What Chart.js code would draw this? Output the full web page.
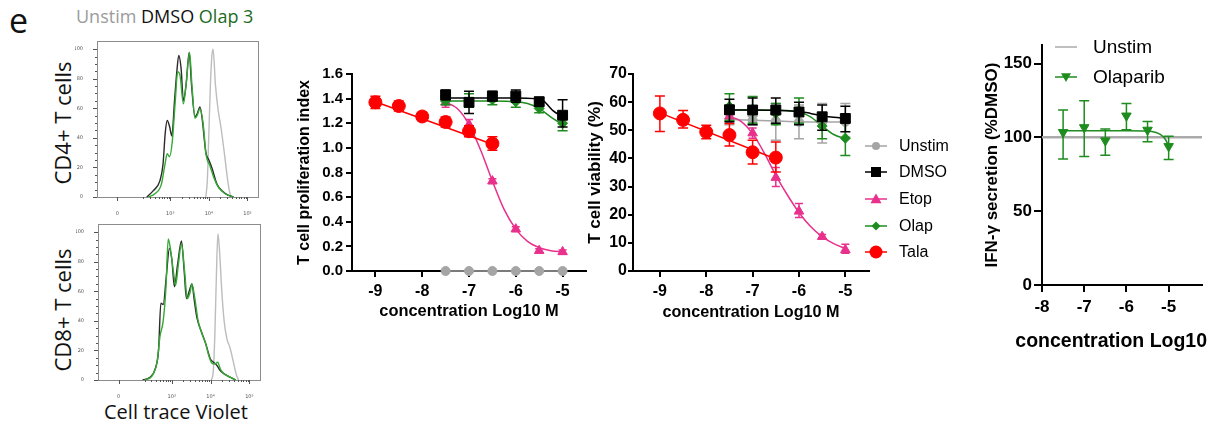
<!DOCTYPE html>
<html>
<head>
<meta charset="utf-8">
<script src="https://cdn.jsdelivr.net/npm/chart.js@4.4.1/dist/chart.umd.min.js"></script>
<style>
  html, body { margin: 0; padding: 0; background: #fff; }
  #fig { position: relative; width: 1211px; height: 433px; overflow: hidden; }
  #fig canvas { position: absolute; }
  .lbl { position: absolute; white-space: nowrap; font-family: "Open Sans", sans-serif; color: #111; line-height: 1; }
  .vert { transform: translate(-50%, -50%) rotate(-90deg); }
  .mid { transform: translate(-50%, -50%); }
  .gp { font-family: "Liberation Sans", Arial, sans-serif; font-weight: bold; color: #000; }
  .leg { position: absolute; height: 22px; white-space: nowrap; font-family: "Liberation Sans", Arial, sans-serif; color: #000; }
  .leg span { position: absolute; top: 0; line-height: 22px; }
</style>
</head>
<body>
<div id="fig">
  <div class="lbl" style="left:9px;top:3px;font-size:34px;">e</div>
  <div class="lbl" style="left:76px;top:16px;font-size:18px;transform:translate(0,-50%);"><span style="color:#9b9b9b">Unstim</span> DMSO <span style="color:#1d6b1d">Olap 3</span></div>
  <div class="lbl vert" style="left:62px;top:123px;font-size:22px;">CD4+ T cells</div>
  <div class="lbl vert" style="left:62px;top:310px;font-size:22px;">CD8+ T cells</div>
  <div class="lbl mid" style="left:176px;top:412px;font-size:20px;">Cell trace Violet</div>

  <canvas id="histTop"></canvas>
  <canvas id="histBottom"></canvas>
  <canvas id="prolif"></canvas>
  <canvas id="viab"></canvas>
  <canvas id="ifn"></canvas>
  <div class="lbl mid gp" style="left:1122px;top:341px;font-size:19.5px;">concentration Log10 M</div>
  <div id="legViab"></div>
  <div id="legIfn"></div>
</div>

<script>
// ---- histogram data (log10 fluorescence, % of max) ----
const histXTicks = [1.63, 3, 4, 5];
const histXLabels = ['0', '10³', '10⁴', '10⁵'];

const cd4DmsoX = [2.39, 2.56, 2.73, 2.81, 2.87, 2.92, 2.98, 3.04, 3.11, 3.17, 3.22, 3.28, 3.34, 3.41, 3.49, 3.55, 3.64, 3.70, 3.77, 3.83, 3.92, 4.00, 4.08, 4.21, 4.34, 4.51, 4.64];
const cd4DmsoY = [0, 4.3, 10.9, 21.7, 43.5, 51.7, 47.8, 41.3, 65.2, 84.8, 95.7, 87, 65.2, 76.1, 97.8, 76.1, 54.3, 56.5, 60.9, 52.2, 30.4, 25, 19.6, 8.7, 4.3, 1.1, 0];
const cd4OlapX = [2.43, 2.60, 2.77, 2.86, 2.92, 2.98, 3.05, 3.13, 3.19, 3.25, 3.34, 3.41, 3.50, 3.56, 3.64, 3.70, 3.77, 3.85, 3.93, 4.02, 4.13, 4.25, 4.42, 4.64];
const cd4OlapY = [0, 2.2, 8.7, 21.7, 29.3, 27.2, 37, 65.2, 84.8, 82.6, 63, 76.1, 97.8, 76.1, 53.3, 55.4, 59.8, 50, 28.3, 21.7, 13, 6.5, 2.2, 0];
const cd4UnstimX = [3.92, 3.96, 4.0, 4.04, 4.08, 4.11, 4.17, 4.24, 4.32, 4.41, 4.49, 4.55, 4.6];
const cd4UnstimY = [0, 11, 43, 76, 96, 100, 76, 59, 46, 28, 11, 2, 0];

const cd8DmsoX = [2.25, 2.45, 2.58, 2.66, 2.72, 2.78, 2.86, 2.94, 3.0, 3.07, 3.15, 3.25, 3.32, 3.38, 3.45, 3.52, 3.58, 3.65, 3.78, 3.87, 4.0, 4.08, 4.16, 4.26, 4.36, 4.5, 4.65];
const cd8DmsoY = [0, 2, 8, 20, 52, 51, 70, 89, 82, 63, 78, 94, 74, 55, 60, 65, 54, 42, 31.6, 25, 14, 12, 10, 6, 4, 2, 0];
const cd8OlapX = [2.3, 2.5, 2.62, 2.7, 2.78, 2.85, 2.91, 2.97, 3.05, 3.1, 3.17, 3.25, 3.33, 3.4, 3.47, 3.52, 3.59, 3.68, 3.77, 3.87, 3.96, 4.05, 4.12, 4.18, 4.26, 4.36, 4.5, 4.65];
const cd8OlapY = [0, 3, 12, 30, 40, 62, 95.4, 88, 72, 64, 78, 92, 74, 55, 59, 65, 56, 40, 32, 25, 16, 11, 11, 12, 7, 4, 2, 0];
const cd8UnstimX = [4.02, 4.07, 4.11, 4.15, 4.19, 4.23, 4.29, 4.35, 4.42, 4.5, 4.59, 4.66, 4.72];
const cd8UnstimY = [0, 6, 30, 70, 99, 88, 60, 40, 28, 22, 12, 4, 0];

// ---- dose response (log10 M) ----
const concDrug = [-7.5, -7, -6.5, -6, -5.5, -5];
const concTala = [-9, -8.5, -8, -7.5, -7, -6.5];
const concTicks = [-9, -8, -7, -6, -5];

// T cell proliferation index
const prolifUnstim = [0, 0, 0, 0, 0, 0];
const prolifDmso = [1.43, 1.37, 1.42, 1.42, 1.375, 1.265];
const prolifDmsoLo = [1.39, 1.28, 1.38, 1.37, 1.34, 1.17];
const prolifDmsoHi = [1.47, 1.46, 1.46, 1.47, 1.41, 1.39];
const prolifOlap = [1.38, 1.38, 1.39, 1.375, 1.32, 1.2];
const prolifOlapLo = [1.35, 1.33, 1.35, 1.33, 1.285, 1.14];
const prolifOlapHi = [1.415, 1.44, 1.43, 1.42, 1.36, 1.247];
const prolifEtop = [1.37, 1.19, 0.73, 0.34, 0.165, 0.155];
const prolifEtopLo = [1.33, 1.16, 0.71, 0.32, 0.15, 0.14];
const prolifEtopHi = [1.41, 1.23, 0.75, 0.36, 0.18, 0.17];
const prolifTala = [1.37, 1.34, 1.255, 1.21, 1.135, 1.035];
const prolifTalaLo = [1.32, 1.3, 1.22, 1.17, 1.09, 0.98];
const prolifTalaHi = [1.42, 1.38, 1.29, 1.25, 1.18, 1.09];
// fitted curves
const etopFitX = [-7.5, -7.25, -7, -6.75, -6.5, -6.25, -6, -5.75, -5.5, -5.25, -5];
const prolifEtopFit = [1.37, 1.32, 1.19, 0.98, 0.73, 0.5, 0.34, 0.24, 0.19, 0.165, 0.155];
const prolifDmsoFitX = [-7.5, -7, -6.5, -6, -5.6, -5.4, -5.3, -5.2, -5.1, -5];
const prolifDmsoFit = [1.405, 1.405, 1.405, 1.405, 1.4, 1.38, 1.34, 1.3, 1.275, 1.262];
const prolifOlapFitX = [-7.5, -7, -6.5, -6, -5.75, -5.5, -5.25, -5];
const prolifOlapFit = [1.38, 1.38, 1.38, 1.375, 1.36, 1.32, 1.25, 1.19];
const talaFitX = [-9, -6.5];
const prolifTalaFit = [1.375, 1.03];
const prolifTicks = [0, 0.2, 0.4, 0.6, 0.8, 1.0, 1.2, 1.4, 1.6];

// T cell viability (%)
const viabUnstim = [53.8, 53.6, 53.3, 53.0, 52.9, 53.0];
const viabUnstimLo = [52, 52, 46.5, 47, 45.5, 47.5];
const viabUnstimHi = [55.5, 55, 59.5, 59, 59.5, 59.5];
const viabDmso = [57.3, 57.2, 57.2, 56.5, 54.8, 54.2];
const viabDmsoLo = [53, 52, 52.5, 52, 50, 49.5];
const viabDmsoHi = [61, 61.5, 61.5, 60, 59, 58.5];
const viabOlap = [58.5, 57.5, 56, 57, 51.5, 47.2];
const viabOlapLo = [53.5, 52.5, 52, 52.5, 47, 41];
const viabOlapHi = [63, 62, 59.5, 61.5, 56, 53];
const viabEtop = [55, 49, 33.2, 21.2, 12.2, 7.5];
const viabEtopLo = [53, 47.2, 30, 19, 11.5, 6.3];
const viabEtopHi = [56.5, 50.8, 36.8, 24, 13, 9.5];
const viabTala = [56, 53.7, 49.4, 48.3, 42.2, 40.3];
const viabTalaLo = [49.6, 50.8, 47, 44.4, 38, 35.2];
const viabTalaHi = [62.2, 57, 51.8, 52.4, 46.5, 45.8];
const viabEtopFit = [55, 53.2, 48.8, 42, 34, 27, 20.8, 15.8, 12.2, 9.7, 8];
const viabDmsoFitX = [-7.5, -7, -6.5, -6, -5.75, -5.5, -5.25, -5];
const viabDmsoFit = [57.2, 57.2, 57.1, 56.7, 56, 55.2, 54.6, 54.3];
const viabOlapFitX = [-7.5, -7, -6.5, -6.25, -6, -5.75, -5.5, -5.25, -5];
const viabOlapFit = [57.2, 57.2, 57.1, 57, 56.5, 54.8, 51.5, 48.5, 47];
const viabTalaFit = [56.2, 39.8];
const viabTicks = [0, 10, 20, 30, 40, 50, 60, 70];

// IFN-gamma secretion (% DMSO)
const ifnConc = [-7.5, -7, -6.5, -6, -5.5, -5];
const ifnOlap = [103.4, 106.7, 97.8, 114.6, 105, 93.9];
const ifnOlapLo = [85.4, 87, 87.9, 105.2, 97, 85];
const ifnOlapHi = [118.6, 124.7, 105.6, 123, 110.8, 100.7];
const ifnFitX = [-7.5, -7, -6.5, -6, -5.5, -5.3, -5.2, -5.1, -5];
const ifnFit = [104.5, 104.5, 104.5, 104.5, 104.3, 103.3, 102, 99.5, 94.5];
const ifnUnstim = 100;
const ifnXTicks = [-8, -7, -6, -5];
const ifnYTicks = [0, 50, 100, 150];

const legendNames = ['Unstim', 'DMSO', 'Etop', 'Olap', 'Tala'];

// ---- colours ----
const cGray = '#a5a5a5', cBlack = '#000000', cPink = '#e8308c', cGreen = '#1e8c1e', cRed = '#ff0000';
const fontGP = '"Liberation Sans", Arial, sans-serif';

const errorBars = {
  id: 'errorBars',
  beforeDatasetDraw(chart, args) {
    const ds = chart.data.datasets[args.index];
    if (!ds.errLo) return;
    const { ctx } = chart;
    const x = chart.scales.x, y = chart.scales.y;
    ctx.save();
    ctx.strokeStyle = ds.errColor;
    ctx.lineWidth = 1.5;
    ds.data.forEach((p, i) => {
      const px = x.getPixelForValue(p.x);
      const lo = y.getPixelForValue(ds.errLo[i]);
      const hi = y.getPixelForValue(ds.errHi[i]);
      const cw = ds.capWidth;
      ctx.beginPath();
      ctx.moveTo(px, lo); ctx.lineTo(px, hi);
      ctx.moveTo(px - cw, lo); ctx.lineTo(px + cw, lo);
      ctx.moveTo(px - cw, hi); ctx.lineTo(px + cw, hi);
      ctx.stroke();
    });
    ctx.restore();
  }
};
Chart.register(errorBars);

// grey box around the flow histograms, with tick marks on the left and bottom
const histFrame = {
  id: 'histFrame',
  afterDatasetsDraw(chart) {
    const a = chart.chartArea, ctx = chart.ctx;
    const sx = chart.scales.x, sy = chart.scales.y;
    ctx.save();
    ctx.strokeStyle = '#8c8c8c';
    ctx.lineWidth = 1;
    ctx.strokeRect(Math.round(a.left) + 0.5, Math.round(a.top) + 0.5, Math.round(a.right - a.left) - 1, Math.round(a.bottom - a.top));
    ctx.strokeStyle = '#555';
    ctx.beginPath();
    sy.ticks.forEach(t => {
      const py = Math.round(sy.getPixelForValue(t.value)) + 0.5;
      const len = t.value % 20 === 0 ? 4 : 2;
      ctx.moveTo(a.left - len, py); ctx.lineTo(a.left, py);
    });
    sx.ticks.forEach(t => {
      const px = Math.round(sx.getPixelForValue(t.value)) + 0.5;
      const len = histXTicks.indexOf(t.value) >= 0 ? 4 : 2;
      ctx.moveTo(px, a.bottom); ctx.lineTo(px, a.bottom + len);
    });
    ctx.stroke();
    ctx.restore();
  }
};

function xy(xs, ys) { return xs.map((x, i) => ({ x: x, y: ys[i] })); }

function points(xs, ys, lo, hi, color, style, r, cap, rot) {
  return {
    data: xy(xs, ys), showLine: false, clip: false,
    pointStyle: style, pointRadius: r, rotation: rot || 0,
    pointBackgroundColor: color, pointBorderColor: color, pointBorderWidth: 1,
    errLo: lo, errHi: hi, errColor: color, capWidth: cap
  };
}

function curve(xs, ys, color, w) {
  return {
    data: xy(xs, ys), showLine: true, clip: false, pointRadius: 0,
    borderColor: color, borderWidth: w || 1.5, cubicInterpolationMode: 'monotone'
  };
}

function gpAxis(min, max, ticks, fmt, fs, title, ts, tl, pad) {
  return {
    type: 'linear', min: min, max: max,
    afterBuildTicks: s => { s.ticks = ticks.map(v => ({ value: v })); },
    ticks: { autoSkip: false, maxRotation: 0, padding: pad, color: '#000', callback: fmt,
             font: { family: fontGP, weight: 'bold', size: fs } },
    grid: { display: true, drawOnChartArea: false, drawTicks: true, tickLength: tl,
            tickWidth: 2, tickColor: '#000', color: '#000', lineWidth: 2 },
    border: { display: true, color: '#000', width: 2 },
    title: { display: !!title, text: title, color: '#000', padding: 0,
             font: { family: fontGP, weight: 'bold', size: ts } }
  };
}

// place a chart so that its plot area lands on the given box
function placed(id, area, m, config) {
  const c = document.getElementById(id);
  const w = area.r - area.l + m.l + m.r, h = area.b - area.t + m.t + m.b;
  c.width = w; c.height = h;
  c.style.width = w + 'px'; c.style.height = h + 'px';
  c.style.left = (area.l - m.l) + 'px'; c.style.top = (area.t - m.t) + 'px';
  config.options.responsive = false;
  config.options.animation = false;
  config.options.devicePixelRatio = 1;
  config.options.events = [];
  config.options.layout = { padding: { left: 0, top: m.t, right: m.r, bottom: 0 } };
  config.options.plugins = Object.assign({ legend: { display: false }, tooltip: { enabled: false } }, config.options.plugins || {});
  config.options.scales.y.afterFit = s => { s.width = m.l; };
  config.options.scales.x.afterFit = s => { s.height = m.b; };
  return new Chart(c, config);
}

// ---- histograms ----
const histMinor = [];
[2, 3, 4].forEach(d => { for (let k = 2; k <= 9; k++) { const v = d + Math.log10(k); if (v > 2.2 && v < 5.3) histMinor.push(v); } });
const histYTicks = [];
for (let v = 0; v <= 100; v += 5) histYTicks.push(v);

function histChart(id, area, dx, dy, ox, oy, ux, uy) {
  const allX = histXTicks.concat(histMinor);
  return placed(id, area, { l: 22, t: 3, r: 4, b: 18 }, {
    type: 'scatter',
    data: { datasets: [
      curve(ox, oy, '#33a833', 1.4),
      curve(dx, dy, '#2b2b2b', 1.4),
      curve(ux, uy, '#bdbdbd', 1.4)
    ] },
    plugins: [histFrame],
    options: {
      scales: {
        x: {
          type: 'linear', min: 1.1, max: 5.3,
          afterBuildTicks: s => { s.ticks = allX.map(v => ({ value: v })); },
          ticks: { autoSkip: false, maxRotation: 0, padding: 6, color: '#555',
                   font: { family: 'DejaVu Sans', size: 5 },
                   callback: v => { const i = histXTicks.indexOf(v); return i >= 0 ? histXLabels[i] : ''; } },
          grid: { display: false },
          border: { display: false }
        },
        y: {
          type: 'linear', min: 0, max: 105.5,
          afterBuildTicks: s => { s.ticks = histYTicks.map(v => ({ value: v })); },
          ticks: { autoSkip: false, padding: 6, color: '#555',
                   font: { family: 'DejaVu Sans', size: 5 },
                   callback: v => (v % 20 === 0 ? String(v) : '') },
          grid: { display: false },
          border: { display: false }
        }
      }
    }
  });
}

histChart('histTop', { l: 97, t: 35, r: 259, b: 197 }, cd4DmsoX, cd4DmsoY, cd4OlapX, cd4OlapY, cd4UnstimX, cd4UnstimY);
histChart('histBottom', { l: 98, t: 218, r: 261, b: 380 }, cd8DmsoX, cd8DmsoY, cd8OlapX, cd8OlapY, cd8UnstimX, cd8UnstimY);

// ---- proliferation ----
placed('prolif', { l: 352, t: 74, r: 586, b: 271 }, { l: 57, t: 12, r: 12, b: 50 }, {
  type: 'scatter',
  data: { datasets: [
    points(concDrug, prolifDmso, prolifDmsoLo, prolifDmsoHi, cBlack, 'rect', 7, 5),
    points(concDrug, prolifOlap, prolifOlapLo, prolifOlapHi, cGreen, 'rectRot', 5, 5),
    points(concTala, prolifTala, prolifTalaLo, prolifTalaHi, cRed, 'circle', 6.5, 5),
    points(concDrug, prolifEtop, prolifEtopLo, prolifEtopHi, cPink, 'triangle', 5.5, 4),
    points(concDrug, prolifUnstim, null, null, cGray, 'circle', 4.5, 0),
    curve(prolifDmsoFitX, prolifDmsoFit, cBlack),
    curve(prolifOlapFitX, prolifOlapFit, cGreen),
    curve(talaFitX, prolifTalaFit, cRed),
    curve(etopFitX, prolifEtopFit, cPink),
    curve(concDrug, prolifUnstim, cGray)
  ] },
  options: {
    scales: {
      x: gpAxis(-9.5, -4.5, concTicks, v => String(v), 16, 'concentration Log10 M', 16.4, 6, 5),
      y: gpAxis(0, 1.6, prolifTicks, v => v.toFixed(1), 15, 'T cell proliferation index', 16, 6, 3)
    }
  }
});

// ---- viability ----
placed('viab', { l: 633, t: 74, r: 869, b: 271 }, { l: 48, t: 12, r: 8, b: 51 }, {
  type: 'scatter',
  data: { datasets: [
    points(concDrug, viabDmso, viabDmsoLo, viabDmsoHi, cBlack, 'rect', 7, 5),
    points(concDrug, viabOlap, viabOlapLo, viabOlapHi, cGreen, 'rectRot', 5, 5),
    points(concTala, viabTala, viabTalaLo, viabTalaHi, cRed, 'circle', 6.5, 5),
    points(concDrug, viabEtop, viabEtopLo, viabEtopHi, cPink, 'triangle', 5.5, 4),
    points(concDrug, viabUnstim, viabUnstimLo, viabUnstimHi, cGray, 'circle', 4.5, 5),
    curve(viabDmsoFitX, viabDmsoFit, cBlack),
    curve(viabOlapFitX, viabOlapFit, cGreen),
    curve(talaFitX, viabTalaFit, cRed),
    curve(etopFitX, viabEtopFit, cPink),
    curve(concDrug, viabUnstim, cGray)
  ] },
  options: {
    scales: {
      x: gpAxis(-9.58, -4.49, concTicks, v => String(v), 16, 'concentration Log10 M', 16.2, 6, 5),
      y: gpAxis(0, 70, viabTicks, v => String(v), 16, 'T cell viability (%)', 17, 5, 1)
    }
  }
});

// ---- IFN-gamma ----
const ifnXMin = -8, ifnXMax = -4.21;
placed('ifn', { l: 1042, t: 45, r: 1202, b: 285 }, { l: 60, t: 12, r: 9, b: 68 }, {
  type: 'scatter',
  data: { datasets: [
    points(ifnConc, ifnOlap, ifnOlapLo, ifnOlapHi, cGreen, 'triangle', 5.5, 5, 180),
    curve(ifnFitX, ifnFit, cGreen),
    curve([ifnXMin, ifnXMax], [ifnUnstim, ifnUnstim], '#aaaaaa', 2.5)
  ] },
  options: {
    scales: {
      x: gpAxis(ifnXMin, ifnXMax, ifnXTicks, v => String(v), 17, '', 19.5, 7, 5),
      y: gpAxis(0, 162.4, ifnYTicks, v => String(v), 17, 'IFN-γ secretion (%DMSO)', 17, 8, 2)
    }
  }
});

// ---- legends ----
function marker(shape, color, s) {
  if (shape === 'circle') return `<circle cx="11" cy="11" r="${s}" fill="${color}"/>`;
  if (shape === 'square') return `<rect x="${11 - s}" y="${11 - s}" width="${2 * s}" height="${2 * s}" fill="${color}"/>`;
  if (shape === 'triangle') return `<polygon points="11,${11 - s} ${11 + s},${11 + s * 0.75} ${11 - s},${11 + s * 0.75}" fill="${color}"/>`;
  if (shape === 'tridown') return `<polygon points="11,${11 + s} ${11 + s},${11 - s * 0.75} ${11 - s},${11 - s * 0.75}" fill="${color}"/>`;
  if (shape === 'diamond') return `<polygon points="11,${11 - s} ${11 + s},11 11,${11 + s} ${11 - s},11" fill="${color}"/>`;
  return '';
}

function legendRow(parent, x, y, textX, name, color, shape, s, fs) {
  const row = document.createElement('div');
  row.className = 'leg';
  row.style.left = x + 'px';
  row.style.top = (y - 11) + 'px';
  row.style.fontSize = fs + 'px';
  row.innerHTML = `<svg width="22" height="22" style="position:absolute;left:0;top:0">` +
    `<line x1="0" y1="11" x2="22" y2="11" stroke="${color}" stroke-width="1.5"/>${marker(shape, color, s)}</svg>` +
    `<span style="left:${textX - x}px">${name}</span>`;
  parent.appendChild(row);
}

const legViab = document.getElementById('legViab');
const legColors = [cGray, cBlack, cPink, cGreen, cRed];
const legShapes = ['circle', 'square', 'triangle', 'diamond', 'circle'];
const legSizes = [4, 5, 5.5, 4.5, 6.5];
const legY = [146, 172, 199, 226, 252];
legendNames.forEach((n, i) => legendRow(legViab, 865, legY[i], 899, n, legColors[i], legShapes[i], legSizes[i], 16));

const legIfn = document.getElementById('legIfn');
legendRow(legIfn, 1055, 47, 1093, 'Unstim', '#aaaaaa', 'none', 0, 19);
legendRow(legIfn, 1055, 77, 1093, 'Olaparib', cGreen, 'tridown', 5, 19);
</script>
</body>
</html>
